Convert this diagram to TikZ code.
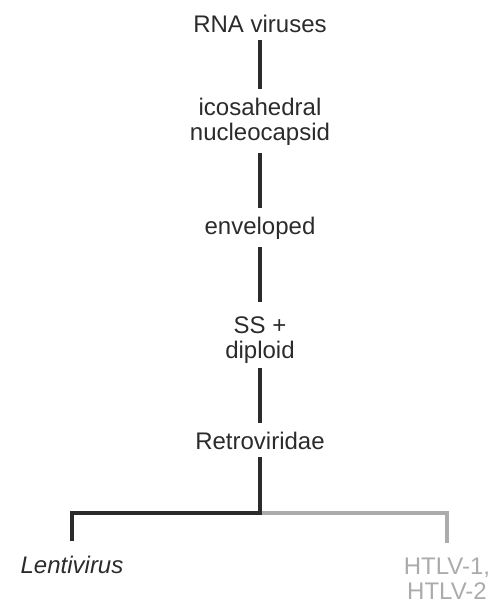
\documentclass[tikz,border=0pt]{standalone}
\usepackage{fontspec}
\setmainfont{Liberation Sans}
\definecolor{ink}{HTML}{2B2B2B}
\definecolor{faint}{HTML}{ABABAB}
\tikzset{
  taxon/.style={inner xsep=0pt, inner ysep=8pt, align=center, anchor=base,
                text=ink, font=\fontsize{24}{25}\selectfont},
  link/.style={draw=ink, line width=3.6pt},
  fadedlink/.style={draw=faint, line width=3.6pt},
}
\begin{document}
\begin{tikzpicture}[x=1pt,y=-1pt]
  \useasboundingbox (0,0) rectangle (493,606);

  % classification path (multi-line labels are placed by their last baseline)
  \node[taxon] (rna)   at (260,32)  {RNA viruses};
  \node[taxon] (ico)   at (260,140) {icosahedral\\nucleocapsid};
  \node[taxon] (env)   at (260,234) {enveloped};
  \node[taxon] (ss)    at (260,358) {SS +\\diploid};
  \node[taxon] (retro) at (260,449) {Retroviridae};
  \node[taxon, font=\fontsize{24}{25}\selectfont\itshape] (lenti) at (72,573) {Lentivirus};
  \node[taxon, text=faint] (htlv) at (447,599) {HTLV-1,\\HTLV-2};
  \coordinate (fork) at (260,513);

  \draw[link] (rna) -- (ico);
  \draw[link] (ico) -- (env);
  \draw[link, shorten >=6pt] (env) -- (ss);
  \draw[link, shorten <=-3pt] (ss) -- (retro);

  % branches
  \draw[fadedlink, shorten >=6pt] (fork) -| (htlv.north);
  \draw[link, shorten >=6pt] (retro) -- (fork) -| (lenti.north);
\end{tikzpicture}
\end{document}
